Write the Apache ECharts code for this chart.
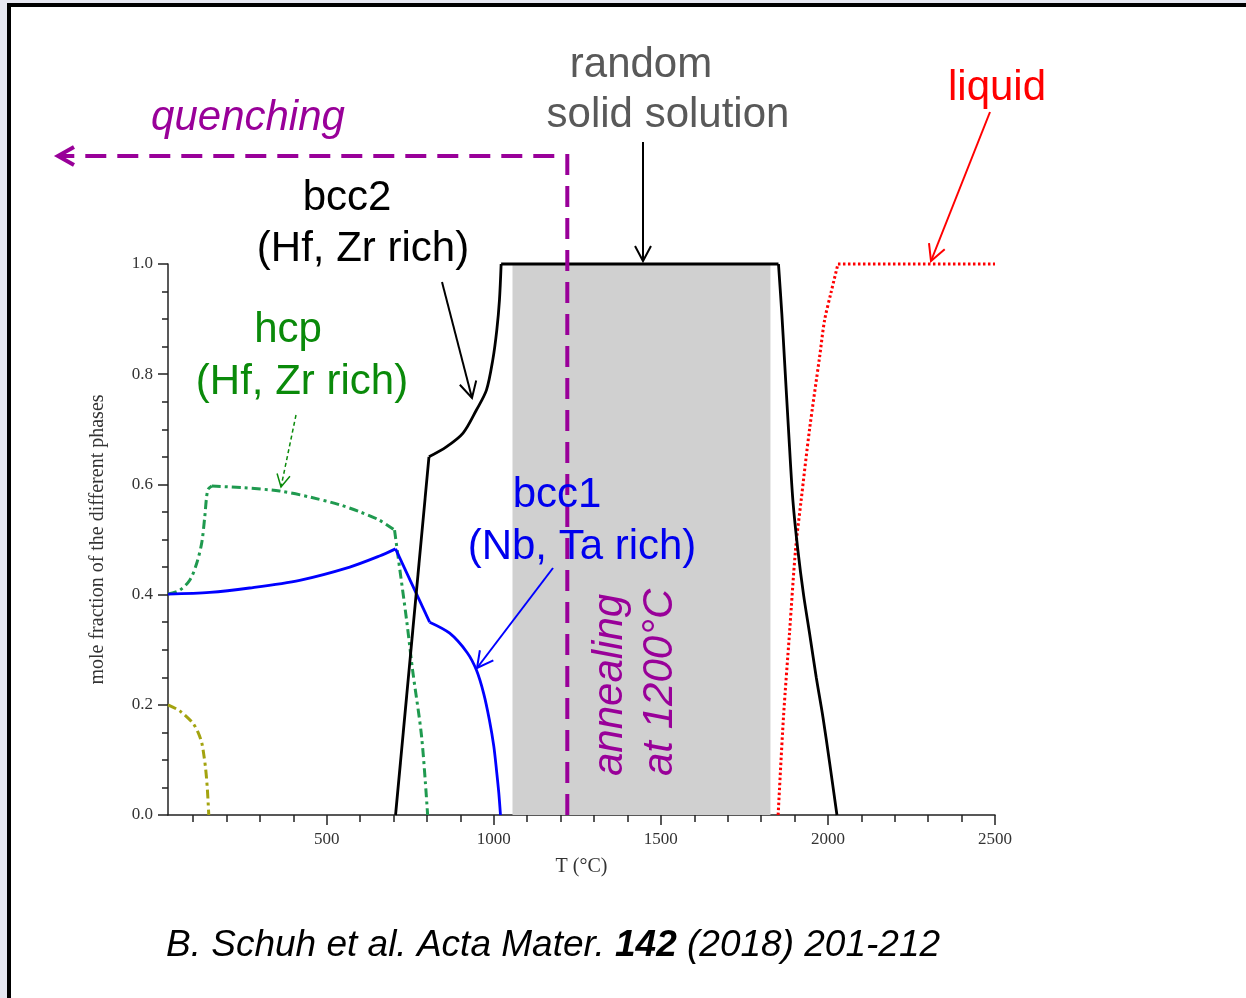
<!DOCTYPE html>
<html>
<head>
<meta charset="utf-8">
<script src="https://cdn.jsdelivr.net/npm/echarts@6/dist/echarts.min.js"></script>
<style>
  html, body { margin: 0; padding: 0; background: #e6e7f1; }
  #chart { width: 1246px; height: 998px; }
</style>
</head>
<body>
<div id="chart"></div>
<script>
// Phase fractions vs temperature (T in °C, mole fraction)
const bcc2T = [706, 806, 858, 908, 948, 978, 997, 1009, 1017, 1022, 1852, 1862, 1870, 1882, 1895, 1910, 1927, 1945, 1965, 1985, 2005, 2027];
const bcc2V = [0.0, 0.650, 0.668, 0.693, 0.735, 0.771, 0.826, 0.880, 0.935, 1.0, 1.0, 0.91, 0.826, 0.70, 0.572, 0.481, 0.40, 0.33, 0.25, 0.178, 0.095, 0.0];
const bcc2Breaks = [1, 9, 10];

const bcc1T = [25, 150, 269, 419, 569, 658, 706, 808, 868, 920, 948, 970, 987, 1000, 1008, 1015, 1020];
const bcc1V = [0.401, 0.404, 0.412, 0.426, 0.450, 0.470, 0.483, 0.350, 0.330, 0.295, 0.263, 0.220, 0.172, 0.125, 0.082, 0.04, 0.0];
const bcc1Breaks = [6, 7];

const hcpT = [25, 60, 90, 110, 126, 135, 144, 156, 250, 359, 450, 539, 600, 658, 703, 712, 739, 757, 784, 802];
const hcpV = [0.401, 0.408, 0.426, 0.455, 0.494, 0.541, 0.590, 0.597, 0.594, 0.588, 0.577, 0.563, 0.550, 0.535, 0.517, 0.476, 0.354, 0.263, 0.142, 0.0];
const hcpBreaks = [7, 14];

const minorT = [25, 60, 99, 115, 126, 132, 138, 143, 147];
const minorV = [0.200, 0.189, 0.167, 0.150, 0.131, 0.110, 0.082, 0.045, 0.0];
const minorBreaks = [];

const liquidT = [1851, 1867, 1885, 1903, 1920, 1945, 1975, 1990, 2010, 2030, 2500];
const liquidV = [0.0, 0.178, 0.330, 0.481, 0.572, 0.700, 0.831, 0.898, 0.950, 1.0, 1.0];
const liquidBreaks = [9];

// Annealing window and quench temperature
const annealRange = [1056, 1828];
const quenchT = 1220;

// Axis ticks
const xMajorTicks = [500, 1000, 1500, 2000, 2500];
const xMinorTicks = [100, 200, 300, 400, 600, 700, 800, 900, 1100, 1200, 1300, 1400, 1600, 1700, 1800, 1900, 2100, 2200, 2300, 2400];

const zip = (xs, ys) => xs.map((x, i) => [x, ys[i]]);

// Split a curve at kink indices so each piece can be smoothed on its own
function pieces(xs, ys, breaks) {
  const pts = zip(xs, ys);
  const cuts = [0].concat(breaks, [pts.length - 1]);
  const out = [];
  for (let i = 0; i < cuts.length - 1; i++) out.push(pts.slice(cuts[i], cuts[i + 1] + 1));
  return out;
}

function phaseSeries(name, xs, ys, breaks, lineStyle, z) {
  return pieces(xs, ys, breaks).map(seg => ({
    name: name, type: 'line', data: seg, showSymbol: false, clip: false, z: z,
    smooth: seg.length > 2 ? 0.3 : false,
    lineStyle: lineStyle
  }));
}

const serif = '"Liberation Serif", "DejaVu Serif", serif';
const sans = '"Liberation Sans", Arial, sans-serif';
const purple = '#990099';

const chart = echarts.init(document.getElementById('chart'), null, { renderer: 'canvas' });

const axisLineStyle = { color: '#222', width: 1.5 };

const option = {
  animation: false,
  backgroundColor: 'transparent',
  grid: { left: 168, top: 264, width: 827, height: 551, containLabel: false },
  xAxis: [
    {
      type: 'value', min: 25, max: 2500, position: 'bottom',
      name: 'T (°C)', nameLocation: 'middle', nameGap: 42,
      nameTextStyle: { fontFamily: serif, fontSize: 20, color: '#333' },
      axisLine: { show: true, lineStyle: axisLineStyle },
      axisTick: { show: true, customValues: xMajorTicks, length: 10, lineStyle: { color: '#222', width: 1.5 } },
      axisLabel: { show: true, customValues: xMajorTicks, margin: 16, fontFamily: serif, fontSize: 17, color: '#333', formatter: v => String(v) },
      splitLine: { show: false }
    },
    {
      type: 'value', min: 25, max: 2500, position: 'bottom',
      axisLine: { show: false },
      axisTick: { show: true, customValues: xMinorTicks, length: 7, lineStyle: { color: '#222', width: 1.5 } },
      axisLabel: { show: false },
      splitLine: { show: false }
    }
  ],
  yAxis: {
    type: 'value', min: 0, max: 1, interval: 0.2,
    name: 'mole fraction of the different phases', nameLocation: 'middle', nameGap: 60, nameRotate: 90,
    nameTextStyle: { fontFamily: serif, fontSize: 20, color: '#333' },
    axisLine: { show: true, lineStyle: axisLineStyle },
    axisTick: { show: true, length: 10, lineStyle: { color: '#222', width: 1.5 } },
    minorTick: { show: true, splitNumber: 4, length: 6, lineStyle: { color: '#222', width: 1.5 } },
    axisLabel: { margin: 15, fontFamily: serif, fontSize: 17, color: '#333', formatter: v => v.toFixed(1) },
    splitLine: { show: false }
  },
  series: [
    {
      name: 'annealing window', type: 'line', data: [], z: 1, silent: true,
      markArea: {
        silent: true,
        itemStyle: { color: '#d0d0d0' },
        data: [[{ xAxis: annealRange[0], yAxis: 0 }, { xAxis: annealRange[1], yAxis: 1 }]]
      }
    }
  ]
    .concat(phaseSeries('liquid', liquidT, liquidV, liquidBreaks, { color: '#ff0000', width: 3, type: [2.5, 2.5] }, 3))
    .concat(phaseSeries('hcp', hcpT, hcpV, hcpBreaks, { color: '#1f9a4f', width: 3, type: [9, 4, 3, 4] }, 3))
    .concat(phaseSeries('minor phase', minorT, minorV, minorBreaks, { color: '#a3a30f', width: 3, type: [9, 4, 3, 4] }, 3))
    .concat(phaseSeries('bcc1', bcc1T, bcc1V, bcc1Breaks, { color: '#0000ff', width: 2.8 }, 4))
    .concat(phaseSeries('bcc2', bcc2T, bcc2V, bcc2Breaks, { color: '#000000', width: 2.8 }, 5))
};

chart.setOption(option);

// Straight arrow with an open chevron head at (x2, y2)
function arrow(x1, y1, x2, y2, color, width, head, dash) {
  const dx = x2 - x1, dy = y2 - y1;
  const len = Math.hypot(dx, dy);
  const ux = dx / len, uy = dy / len;
  const ang = 28 * Math.PI / 180;
  const rot = (a) => [ux * Math.cos(a) - uy * Math.sin(a), ux * Math.sin(a) + uy * Math.cos(a)];
  const [ax, ay] = rot(ang);
  const [bx, by] = rot(-ang);
  return [
    { type: 'polyline', z: 20, shape: { points: [[x1, y1], [x2, y2]] },
      style: { stroke: color, lineWidth: width, lineDash: dash || null, fill: null } },
    { type: 'polyline', z: 20, shape: { points: [[x2 - ax * head, y2 - ay * head], [x2, y2], [x2 - bx * head, y2 - by * head]] },
      style: { stroke: color, lineWidth: width, fill: null } }
  ];
}

function label(text, x, y, color, opts) {
  opts = opts || {};
  return {
    type: 'text', z: 20, x: x, y: y, rotation: opts.rotation || 0,
    style: {
      text: text, fill: color,
      font: (opts.italic ? 'italic ' : '') + (opts.size || 42) + 'px ' + sans,
      align: opts.align || 'center', verticalAlign: 'middle',
      textAlign: opts.align || 'center', textVerticalAlign: 'middle'
    }
  };
}

const qx = chart.convertToPixel({ xAxisIndex: 0 }, quenchT);
const plotBottom = chart.convertToPixel({ yAxisIndex: 0 }, 0);
const quenchTop = 156;

const graphics = [
  // slide frame
  { type: 'rect', z: 0, shape: { x: 9, y: 5, width: 1300, height: 1100 },
    style: { fill: '#ffffff', stroke: '#000000', lineWidth: 4 } },

  // quenching path
  { type: 'polyline', z: 15, shape: { points: [[qx, plotBottom], [qx, quenchTop], [60, quenchTop]] },
    style: { stroke: purple, lineWidth: 4, lineDash: [21, 11], fill: null } },
  { type: 'polyline', z: 15, shape: { points: [[74, quenchTop - 9], [58, quenchTop], [74, quenchTop + 9]] },
    style: { stroke: purple, lineWidth: 4, fill: null } },

  label('quenching', 248, 118, purple, { italic: true }),
  label('random', 641, 65, '#595959'),
  label('solid solution', 668, 115, '#595959'),
  label('liquid', 997, 88, '#ff0000'),
  label('bcc2', 347, 198, '#000000'),
  label('(Hf, Zr rich)', 363, 249, '#000000'),
  label('hcp', 288, 330, '#0a8a0a'),
  label('(Hf, Zr rich)', 302, 382, '#0a8a0a'),
  label('bcc1', 557, 495, '#0000ee'),
  label('(Nb, Ta rich)', 582, 547, '#0000ee'),
  label('annealing', 610, 776, purple, { italic: true, rotation: Math.PI / 2, align: 'left' }),
  label('at 1200°C', 660, 776, purple, { italic: true, rotation: Math.PI / 2, align: 'left' }),

  {
    type: 'text', z: 20, x: 166, y: 946,
    style: {
      text: '{i|B. Schuh et al. Acta Mater. }{b|142}{i| (2018) 201-212}',
      align: 'left', verticalAlign: 'middle', textAlign: 'left', textVerticalAlign: 'middle',
      rich: {
        i: { fontFamily: sans, fontSize: 37, fontStyle: 'italic', fill: '#000', color: '#000' },
        b: { fontFamily: sans, fontSize: 37, fontStyle: 'italic', fontWeight: 'bold', fill: '#000', color: '#000' }
      }
    }
  }
]
  .concat(arrow(643, 142, 643, 261, '#000000', 2, 17))
  .concat(arrow(990, 112, 931, 261, '#ff0000', 2, 18))
  .concat(arrow(442, 282, 472, 398, '#000000', 2, 18))
  .concat(arrow(296, 415, 281, 487, '#0a8a0a', 1.5, 14, [4, 3]))
  .concat(arrow(553, 568, 477, 668, '#0000ff', 2, 18));

chart.setOption({ graphic: { elements: graphics } });
</script>
</body>
</html>
